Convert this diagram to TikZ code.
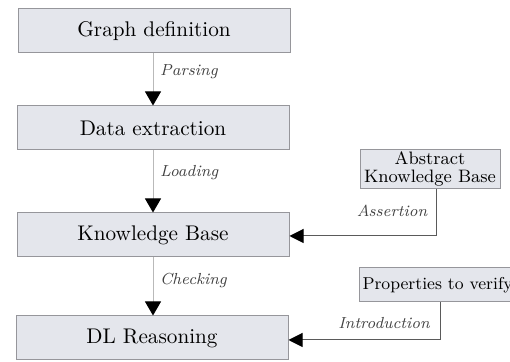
\documentclass[tikz,border=0pt]{standalone}
\usetikzlibrary{arrows.meta}
\definecolor{boxfill}{RGB}{228,230,236}
\definecolor{boxdraw}{RGB}{150,150,155}
\definecolor{vline}{RGB}{185,185,185}
\definecolor{hline}{RGB}{90,90,90}
\begin{document}
\begin{tikzpicture}[x=0.5pt,y=-0.5pt,
  mainbox/.style={draw=boxdraw,fill=boxfill,line width=0.5pt,minimum width=136pt,minimum height=22pt,inner sep=2pt,font=\fontsize{10.6}{12}\selectfont},
  sidebox/.style={draw=boxdraw,fill=boxfill,line width=0.5pt,font=\small,align=center,inner sep=2pt,minimum height=18pt},
  flow/.style={draw=vline,line width=0.5pt,-{Triangle[width=8pt,length=7pt,color=black]}},
  side/.style={draw=hline,line width=0.5pt,-{Triangle[width=7pt,length=7pt,color=black]}},
  lab/.style={font=\footnotesize\itshape,text=black!75}]
\useasboundingbox (0,0) rectangle (510,362);
\node[mainbox] (gd) at (154,31) {Graph definition};
\node[mainbox] (de) at (153,128) {Data extraction};
\node[mainbox] (kb) at (153,235) {Knowledge Base};
\node[mainbox] (dl) at (152,338) {DL Reasoning};
\node[sidebox,minimum width=70pt,minimum height=19pt,inner sep=1pt] (akb) at (430,169) {Abstract\\[-2pt]Knowledge Base};
\node[sidebox,font=\fontsize{8.6}{10}\selectfont,inner sep=1.5pt,minimum height=17pt,anchor=west] (ptv) at (359,285) {Properties to verify};
\draw[flow] (gd.south -| de.north) -- node[lab,right,pos=0.35] {Parsing} (de.north);
\draw[flow] (de.south) -- node[lab,right,pos=0.35] {Loading} (kb.north -| de.south);
\draw[flow] (kb.south) -- node[lab,right,pos=0.4] {Checking} (dl.north -| kb.south);
\coordinate (c1) at (436,236);
\coordinate (c2) at (440,340);
\draw[side] (akb.south -| c1) -- (c1) -- node[lab,above,pos=0.3,yshift=6pt] {Assertion} (kb.east |- c1);
\draw[side] (ptv.south -| c2) -- (c2) -- node[lab,above,pos=0.02,anchor=south east,yshift=2pt] {Introduction} (dl.east |- c2);
\end{tikzpicture}
\end{document}
